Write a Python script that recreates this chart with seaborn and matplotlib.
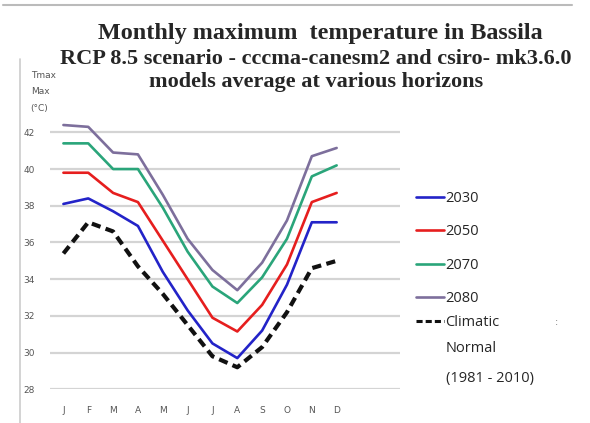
import numpy as np
import pandas as pd
import seaborn as sns
from matplotlib import pyplot as plt
from matplotlib.lines import Line2D

# monthly maximum temperature values
months = ["J", "F", "M", "A", "M", "J", "J", "A", "S", "O", "N", "D"]
t2030 = [38.1, 38.4, 37.7, 36.9, 34.4, 32.3, 30.5, 29.7, 31.2, 33.7, 37.1, 37.1]
t2050 = [39.8, 39.8, 38.7, 38.2, 36.1, 34.0, 31.9, 31.15, 32.6, 34.8, 38.2, 38.7]
t2070 = [41.4, 41.4, 40.0, 40.0, 37.9, 35.5, 33.6, 32.7, 34.1, 36.2, 39.6, 40.2]
t2080 = [42.4, 42.3, 40.9, 40.8, 38.6, 36.2, 34.5, 33.4, 34.9, 37.2, 40.7, 41.15]
normal = [35.4, 37.1, 36.6, 34.7, 33.2, 31.5, 29.8, 29.2, 30.3, 32.2, 34.6, 35.0]
yticks = [28, 30, 32, 34, 36, 38, 40, 42]

series = {"2030": t2030, "2050": t2050, "2070": t2070, "2080": t2080, "Climatic": normal}
colors = {"2030": "#2323c8", "2050": "#e61e1e", "2070": "#2aa57a", "2080": "#7d6f9c", "Climatic": "#111111"}

rows = []
for name, vals in series.items():
    for i, v in enumerate(vals):
        rows.append({"month": i, "tmax": v, "series": name})
df = pd.DataFrame(rows)

sns.set_style("white")
fig = plt.figure(figsize=(5.9, 4.23), dpi=100)
ax = fig.add_axes([50 / 590, 1 - 389.3 / 423, 350 / 590, (389.3 - 114) / 423])

# gridlines first
for y in yticks:
    ax.axhline(y, color="#d4d4d4", lw=1.6, zorder=0)

for name in series:
    sub = df[df.series == name]
    if name == "Climatic":
        sns.lineplot(data=sub, x="month", y="tmax", ax=ax, color=colors[name],
                     lw=3.0, linestyle=(0, (2.2, 1.3)), legend=False)
    else:
        sns.lineplot(data=sub, x="month", y="tmax", ax=ax, color=colors[name],
                     lw=1.9, legend=False)

ax.set_xlim(-0.54, 13.55)
ax.set_ylim(28, 43)
ax.set_xticks(range(12))
ax.set_xticklabels(months)
ax.set_xticks(np.arange(-0.5, 12, 1), minor=True)
ax.set_yticks(yticks)
ax.tick_params(axis="both", which="major", labelsize=6.5, labelcolor="#555555", length=0)
ax.tick_params(axis="x", which="major", pad=12)
ax.tick_params(axis="y", which="major", pad=11)
ax.tick_params(axis="x", which="minor", length=4, color="#cccccc", width=1, direction="out")
ax.set_xlabel("")
ax.set_ylabel("")
for s in ax.spines.values():
    s.set_visible(False)

fig.text(0.052, 1 - 92 / 423, "Tmax\nMax\n(°C)", fontsize=6.5, color="#555555", va="center",
         ha="left", linespacing=2.1)

# titles
fig.text(320 / 590, 1 - 33 / 423, "Monthly maximum  temperature in Bassila", ha="center", va="center",
         fontsize=17.4, fontweight="bold", family="Liberation Serif")
fig.text(316 / 590, 1 - 59 / 423, "RCP 8.5 scenario - cccma-canesm2 and csiro- mk3.6.0", ha="center",
         va="center", fontsize=16, fontweight="bold", family="Liberation Serif")
fig.text(316 / 590, 1 - 82 / 423, "models average at various horizons", ha="center", va="center",
         fontsize=16, fontweight="bold", family="Liberation Serif")

# legend: four horizons, then the climatic normal entry
names = list(series.keys())
handles = [Line2D([], [], color=colors[n], lw=1.9) for n in names[:4]]
leg = fig.legend(handles, names[:4], loc="upper left", bbox_to_anchor=(416 / 590, 1 - 191 / 423),
                 frameon=False, prop={"family": "Open Sans", "size": 10.5}, handlelength=1.9,
                 handletextpad=0.1, labelspacing=1.26, borderaxespad=0, borderpad=0)
h_norm = [Line2D([], [], color=colors["Climatic"], lw=2.2, linestyle=(0, (2, 1)))]
fig.legend(h_norm, ["Climatic"], loc="upper left", bbox_to_anchor=(416 / 590, 1 - 315 / 423),
           frameon=False, prop={"family": "Open Sans", "size": 10.5}, handlelength=1.9,
           handletextpad=0.1, borderaxespad=0, borderpad=0)
fig.text(446 / 590, 1 - 348 / 423, "Normal", fontsize=10.5, family="Open Sans", va="center")
fig.text(446 / 590, 1 - 378 / 423, "(1981 - 2010)", fontsize=10.5, family="Open Sans", va="center")
fig.text(555 / 590, 1 - 322 / 423, ":", fontsize=7, color="#777777", va="center")

# outer frame lines
fig.add_artist(Line2D([0.005, 0.97], [0.988, 0.988], color="#bbbbbb", lw=1.5))
fig.add_artist(Line2D([0.034, 0.034], [0.0, 0.86], color="#cccccc", lw=1.2))

fig.savefig("out.png", dpi=100)
